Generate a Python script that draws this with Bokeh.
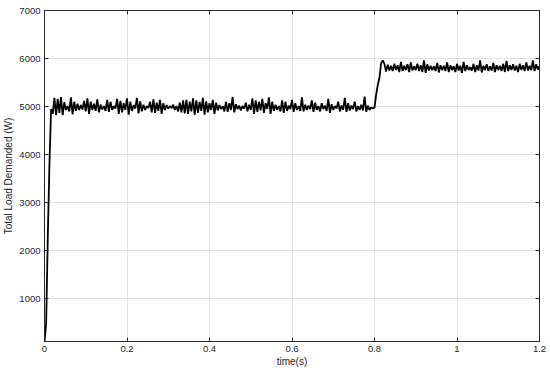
import numpy as np
from bokeh.plotting import figure
from bokeh.models import FixedTicker, Range1d, LinearAxis
from bokeh.embed import file_html
from bokeh.resources import INLINE

# sampling step of the recorded signal (s)
dt = 0.004

rise = [100, 480, 2300, 3800, 4950]

load_5000 = [
    4850, 5180, 4820, 5160, 4870, 5200, 4820, 5090, 4930, 5010, 4900, 5190, 4840, 5100, 4910, 5060, 4930, 5030, 4940, 5120,
    4900, 5170, 4850, 5100, 4930, 5060, 4910, 5150, 4880, 5040, 4940, 5010, 4910, 5140, 4890, 5100, 4930, 5010, 4960, 5160,
    4850, 5120, 4880, 5070, 4930, 5170, 4830, 5100, 4910, 5030, 4960, 5180, 4860, 5110, 4900, 5040, 4930, 5010, 4970, 5100,
    4880, 5150, 4870, 5080, 4910, 5140, 4850, 5070, 4930, 5030, 4960, 5010, 4970, 5040, 4930, 5010, 4900, 5080, 4880, 5130,
    4860, 5140, 4850, 5100, 4900, 5170, 4830, 5130, 4870, 5100, 4910, 5180, 4830, 5110, 4880, 5070, 4930, 5140, 4850, 5080,
    4920, 5030, 4950, 5010, 4900, 5100, 4890, 5070, 4930, 5200, 4880, 5050, 4950, 5020, 4920, 5010, 4960, 5080, 4900, 5040,
    4930, 5170, 4850, 5130, 4890, 5100, 4920, 5160, 4870, 5070, 4950, 5190, 4850, 5100, 4910, 5040, 4930, 5010, 4900, 5130,
    4870, 5100, 4910, 5020, 4950, 5140, 4890, 5070, 4930, 5010, 4910, 5190, 4900, 5040, 4930, 5020, 4950, 5130, 4890, 5080,
    4930, 5010, 4900, 5070, 4950, 5020, 4910, 5160, 4870, 5050, 4930, 5010, 4960, 5100, 4900, 5020, 4930, 5180, 4890, 5070,
    4920, 5020, 4950, 5100, 4900, 5010, 4930, 5040, 4920, 5210, 4890, 5020, 4930, 4980, 4960,
]

step = [4980, 5250, 5450, 5600, 5900, 5960]

load_5800 = [
    5890, 5730, 5870, 5750, 5850, 5740, 5890, 5760, 5860, 5720, 5930, 5740, 5850, 5760, 5880, 5720, 5920, 5750, 5840, 5760,
    5890, 5740, 5860, 5720, 5960, 5700, 5880, 5750, 5850, 5760, 5840, 5740, 5910, 5710, 5860, 5760, 5850, 5740, 5920, 5720,
    5860, 5760, 5840, 5720, 5890, 5750, 5850, 5700, 5930, 5740, 5860, 5760, 5820, 5750, 5890, 5720, 5860, 5750, 5960, 5710,
    5850, 5760, 5880, 5740, 5840, 5750, 5910, 5720, 5860, 5760, 5850, 5740, 5890, 5720, 5950, 5740, 5860, 5760, 5880, 5750,
    5850, 5720, 5890, 5760, 5860, 5740, 5920, 5750, 5850, 5760, 5960, 5740, 5880, 5770, 5840,
]

x_ticks = [0, 0.2, 0.4, 0.6, 0.8, 1.0, 1.2]
x_tick_labels = ["0", "0.2", "0.4", "0.6", "0.8", "1", "1.2"]
y_ticks = [1000, 2000, 3000, 4000, 5000, 6000, 7000]

load = rise + load_5000 + step + load_5800
t = np.round(np.arange(len(load)) * dt, 3)

FONT = "Liberation Sans"
TXT = "#262626"

p = figure(width=549, height=372, output_backend="svg", toolbar_location=None,
           x_range=Range1d(0, 1.2), y_range=Range1d(110, 7000),
           min_border_left=43, min_border_right=10, min_border_top=10, min_border_bottom=31)

p.line(t, load, line_color="black", line_width=1.8)

p.background_fill_color = "white"
p.border_fill_color = "white"
p.outline_line_color = TXT
p.outline_line_width = 1

bottom_ax = p.below[0]
left_ax = p.left[0]

for ax in (bottom_ax, left_ax):
    ax.axis_line_color = TXT
    ax.major_tick_line_color = TXT
    ax.major_tick_in = 4
    ax.major_tick_out = 0
    ax.minor_tick_line_color = None
    ax.major_label_text_font = FONT
    ax.major_label_text_font_size = "9.5px"
    ax.major_label_text_color = TXT
    ax.axis_label_text_font = FONT
    ax.axis_label_text_font_size = "10px"
    ax.axis_label_text_color = TXT
    ax.axis_label_text_font_style = "normal"

bottom_ax.ticker = FixedTicker(ticks=x_ticks)
bottom_ax.major_label_overrides = {v: s for v, s in zip(x_ticks, x_tick_labels)}
bottom_ax.major_label_standoff = 4
bottom_ax.axis_label = "time(s)"
bottom_ax.axis_label_standoff = 1

left_ax.ticker = FixedTicker(ticks=y_ticks)
left_ax.major_label_standoff = 4
left_ax.axis_label = "Total Load Demanded (W)"
left_ax.axis_label_standoff = 2

# box ticks on top and right (no labels)
top_ax = LinearAxis(ticker=FixedTicker(ticks=x_ticks))
right_ax = LinearAxis(ticker=FixedTicker(ticks=y_ticks))
for ax in (top_ax, right_ax):
    ax.axis_line_color = TXT
    ax.major_tick_line_color = TXT
    ax.major_tick_in = 4
    ax.major_tick_out = 0
    ax.minor_tick_line_color = None
    ax.major_label_text_font_size = "0px"
    ax.major_label_text_alpha = 0
    ax.major_label_standoff = 0
p.add_layout(top_ax, "above")
p.add_layout(right_ax, "right")

p.grid.grid_line_color = "#e3e3e3"
p.grid.grid_line_width = 1

open("out.html", "w").write(file_html(p, INLINE))
